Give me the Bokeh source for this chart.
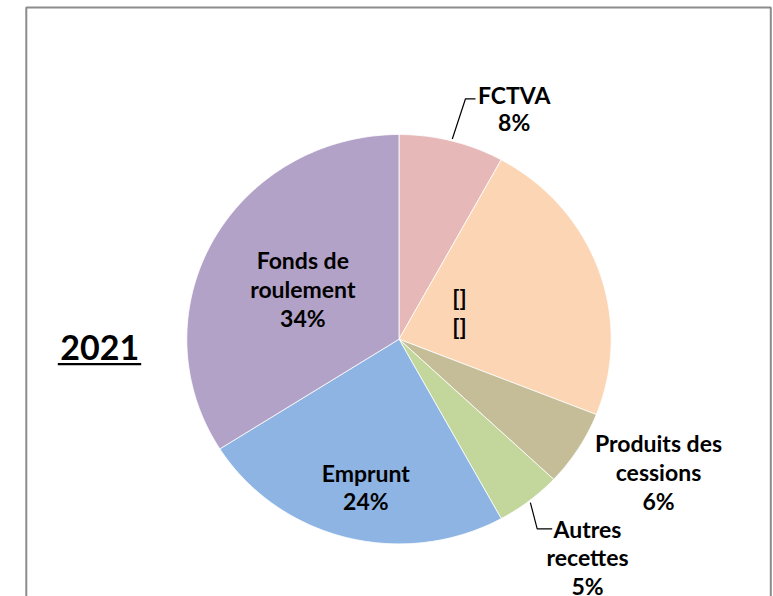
import math
from bokeh.plotting import figure
from bokeh.models import Range1d
from bokeh.core.properties import value
from bokeh.embed import file_html
from bokeh.resources import INLINE

# ---------------- data ----------------
categories = ["FCTVA", "[]", "Produits des\ncessions", "Autres\nrecettes", "Emprunt", "Fonds de\nroulement"]
shares = [8, 23, 6, 5, 24, 34]
pct_labels = ["8%", "[]", "6%", "5%", "24%", "34%"]
year_label = "2021"

# ---------------- style / layout ----------------
colors = ["#E6B9B8", "#FCD5B5", "#C4BD97", "#C3D69B", "#8EB4E3", "#B3A2C7"]
W, H = 773, 596
CX, CY, RX, RY = 398.5, 338.7, 212.2, 204.7
FONT = value("Lato")
FS = "23px"
# label anchors: (center x, first line middle, line spacing, leader (knee dx, end dx, dy) or None)
label_layout = [
    (513.7, 94.8, 26.5, (-48.7, -38.7, 3.5)),
    (459.0, 296.5, 28.5, None),
    (658.0, 442.3, 29.0, None),
    (587.0, 528.3, 28.5, (-50.3, -35.3, 0.0)),
    (365.3, 472.8, 27.7, None),
    (302.3, 259.8, 29.0, None),
]

OFF = 8  # element is rendered shifted by this much
p = figure(width=W + OFF, height=H + OFF, x_range=Range1d(-OFF, W), y_range=Range1d(H, -OFF),
           output_backend="svg", toolbar_location=None, min_border=0,
           margin=(-8, -8, -8, -8))
p.axis.visible = False
p.grid.visible = False
p.outline_line_color = None
p.background_fill_color = "white"
p.border_fill_color = "white"

def pt(theta, f=1.0):
    return CX + f * RX * math.sin(theta), CY - f * RY * math.cos(theta)

total = float(sum(shares))
xs_all, ys_all, mids = [], [], []
acc = 0.0
for v in shares:
    a0 = 2 * math.pi * acc / total
    a1 = 2 * math.pi * (acc + v) / total
    n = max(8, int(v * 4))
    xs, ys = [CX], [CY]
    for i in range(n + 1):
        x, y = pt(a0 + (a1 - a0) * i / n)
        xs.append(x); ys.append(y)
    xs_all.append(xs); ys_all.append(ys)
    mids.append((a0 + a1) / 2)
    acc += v

p.patches(xs_all, ys_all, fill_color=colors, line_color="white", line_width=0.8)

# labels
for cat, pct, mid, (lx, ly, sp, leader) in zip(categories, pct_labels, mids, label_layout):
    lines = cat.split("\n") + [pct]
    p.text(x=[lx] * len(lines), y=[ly + sp * i for i in range(len(lines))], text=lines,
           text_font=FONT, text_font_style="bold", text_font_size=FS,
           text_align="center", text_baseline="middle", text_color="black")
    if leader:
        kdx, edx, dy = leader
        sx, sy = pt(mid, 1.01)
        p.line([sx, lx + kdx, lx + edx], [sy, ly + dy, ly + dy], line_color="black", line_width=1.2)

# year title with underline
p.text(x=[99.3], y=[347.2], text=[year_label], text_font=FONT, text_font_style="bold",
       text_font_size="34px", text_align="center", text_baseline="middle", text_color="black")
p.segment(x0=[57.3], y0=[363.7], x1=[140.7], y1=[363.7], line_color="black", line_width=2.2)

# chart frame
p.line([25.8, 25.8, 770.3, 770.3], [H + 20, 7.0, 7.0, H + 20], line_color="#8c8c8c", line_width=2)

open("out.html", "w").write(file_html(p, INLINE))
